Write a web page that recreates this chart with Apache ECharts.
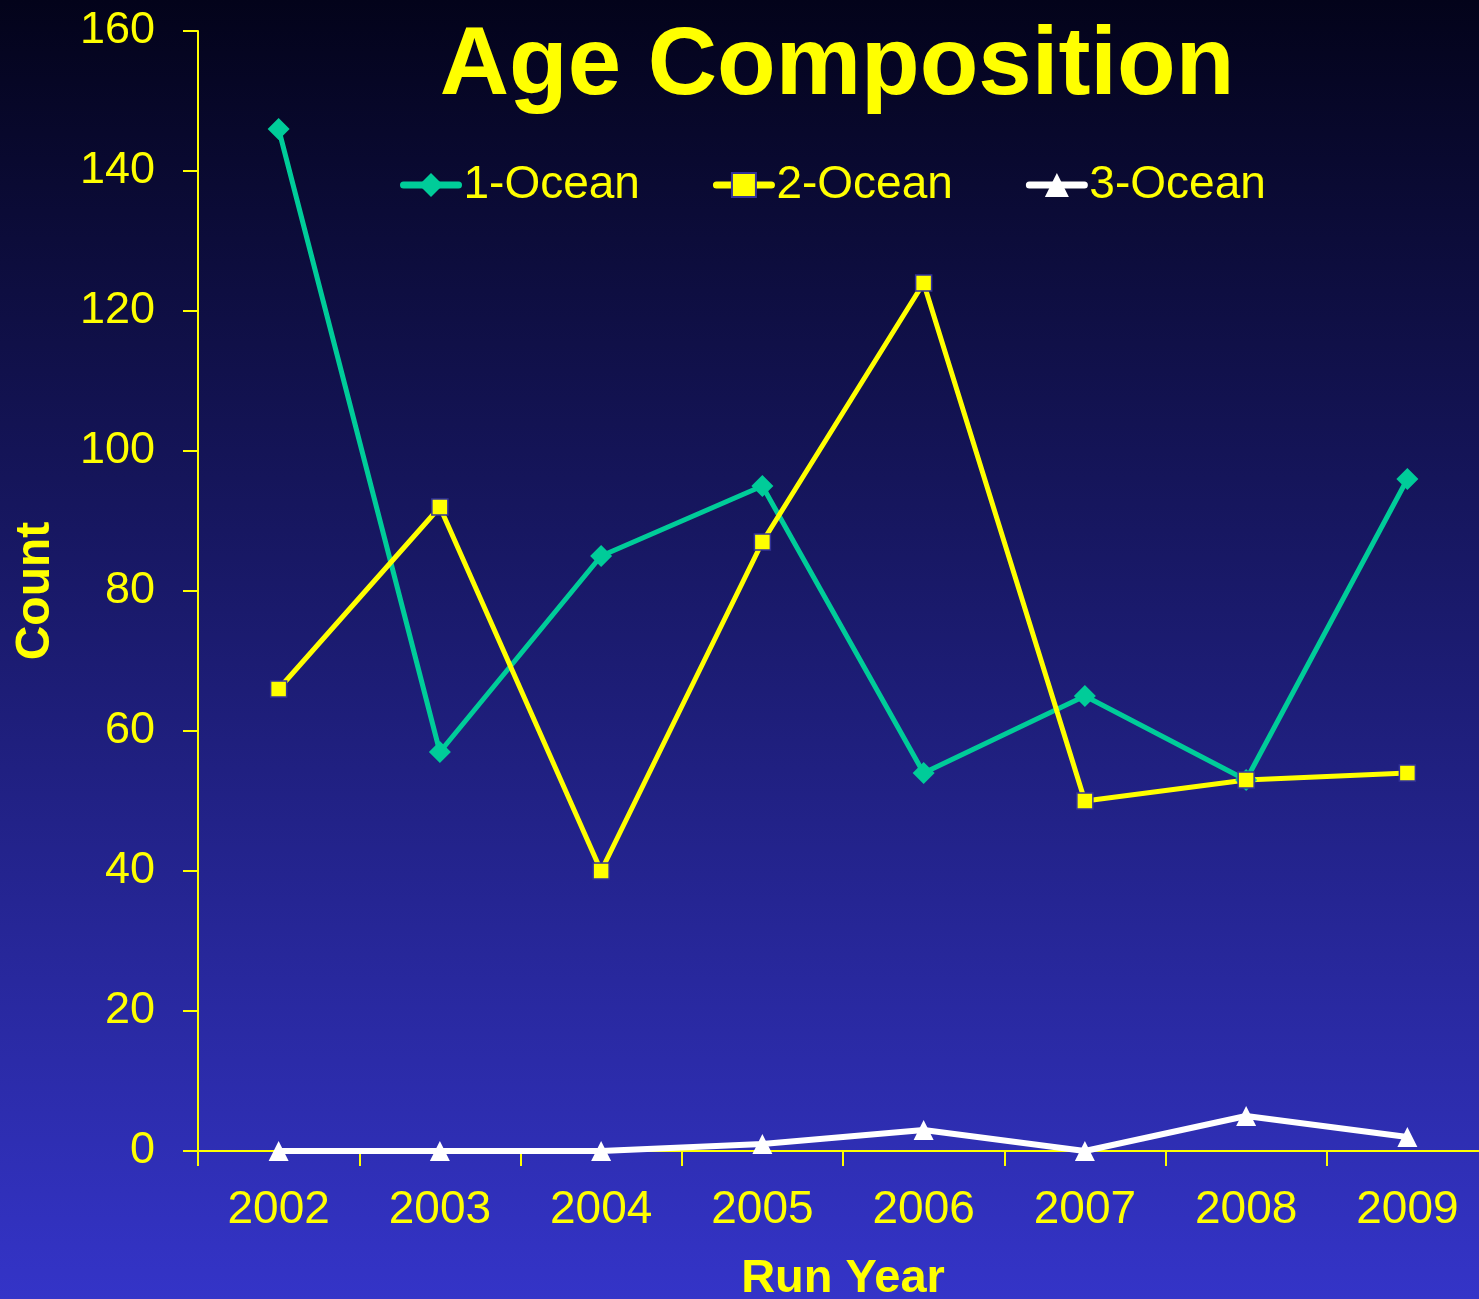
<!DOCTYPE html>
<html>
<head>
<meta charset="utf-8">
<script src="https://cdn.jsdelivr.net/npm/echarts@6/dist/echarts.min.js"></script>
<style>
html,body{margin:0;padding:0;}
#main{width:1479px;height:1299px;}
</style>
</head>
<body>
<div id="main"></div>
<script>
const years = ['2002','2003','2004','2005','2006','2007','2008','2009'];
const oneOcean = [146, 57, 85, 95, 54, 65, 53, 96];
const twoOcean = [66, 92, 40, 87, 124, 50, 53, 54];
const threeOcean = [0, 0, 0, 1, 3, 0, 5, 2];
const seriesNames = ['1-Ocean', '2-Ocean', '3-Ocean'];

const FONT = '"Liberation Sans", Arial, sans-serif';
const YEL = '#ffff00';

const chart = echarts.init(document.getElementById('main'));
chart.setOption({
  animation: false,
  backgroundColor: {
    type: 'linear', x: 0, y: 0, x2: 0, y2: 1,
    colorStops: [
      { offset: 0, color: '#03031a' },
      { offset: 1, color: '#3434c8' }
    ]
  },
  title: {
    text: 'Age Composition',
    left: 832, top: 15,
    textAlign: 'center',
    textStyle: { color: YEL, fontFamily: FONT, fontWeight: 'bold', fontSize: 96 }
  },
  legend: {
    data: seriesNames.map(n => ({ name: n })),
    top: 157, left: 395,
    itemWidth: 55, itemHeight: 30, itemGap: 73,
    lineStyle: { width: 7, cap: 'round' },
    textStyle: { color: YEL, fontFamily: FONT, fontSize: 46 }
  },
  grid: { left: 198, top: 31, width: 1290, height: 1120, containLabel: false, outerBoundsMode: 'none' },
  xAxis: {
    type: 'category',
    data: years,
    boundaryGap: true,
    name: 'Run Year',
    nameLocation: 'middle',
    nameGap: 105,
    nameTextStyle: { color: YEL, fontFamily: FONT, fontWeight: 'bold', fontSize: 47 },
    axisLine: { lineStyle: { color: YEL, width: 2 } },
    axisTick: { show: true, length: 15, inside: false, lineStyle: { color: YEL, width: 2 } },
    axisLabel: { color: YEL, fontFamily: FONT, fontSize: 46, margin: 36 },
    splitLine: { show: false }
  },
  yAxis: {
    type: 'value',
    min: 0, max: 160, interval: 20,
    name: 'Count',
    nameLocation: 'middle',
    nameGap: 138,
    nameRotate: 90,
    nameTextStyle: { color: YEL, fontFamily: FONT, fontWeight: 'bold', fontSize: 48 },
    axisLine: { show: true, lineStyle: { color: YEL, width: 2 } },
    axisTick: { show: true, length: 15, inside: false, lineStyle: { color: YEL, width: 2 } },
    axisLabel: { color: YEL, fontFamily: FONT, fontSize: 45, margin: 43 },
    splitLine: { show: false }
  },
  series: [
    {
      name: seriesNames[0], type: 'line', data: oneOcean,
      symbol: 'diamond', symbolSize: 22,
      lineStyle: { color: '#00cc99', width: 5 },
      itemStyle: { color: '#00cc99' }
    },
    {
      name: seriesNames[1], type: 'line', data: twoOcean,
      symbol: 'rect', symbolSize: 16,
      lineStyle: { color: YEL, width: 5 },
      itemStyle: { color: YEL, borderColor: '#333399', borderWidth: 1.5 }
    },
    {
      name: seriesNames[2], type: 'line', data: threeOcean,
      symbol: 'triangle', symbolSize: 20,
      lineStyle: { color: '#ffffff', width: 6 },
      itemStyle: { color: '#ffffff' }
    }
  ]
});
</script>
</body>
</html>
